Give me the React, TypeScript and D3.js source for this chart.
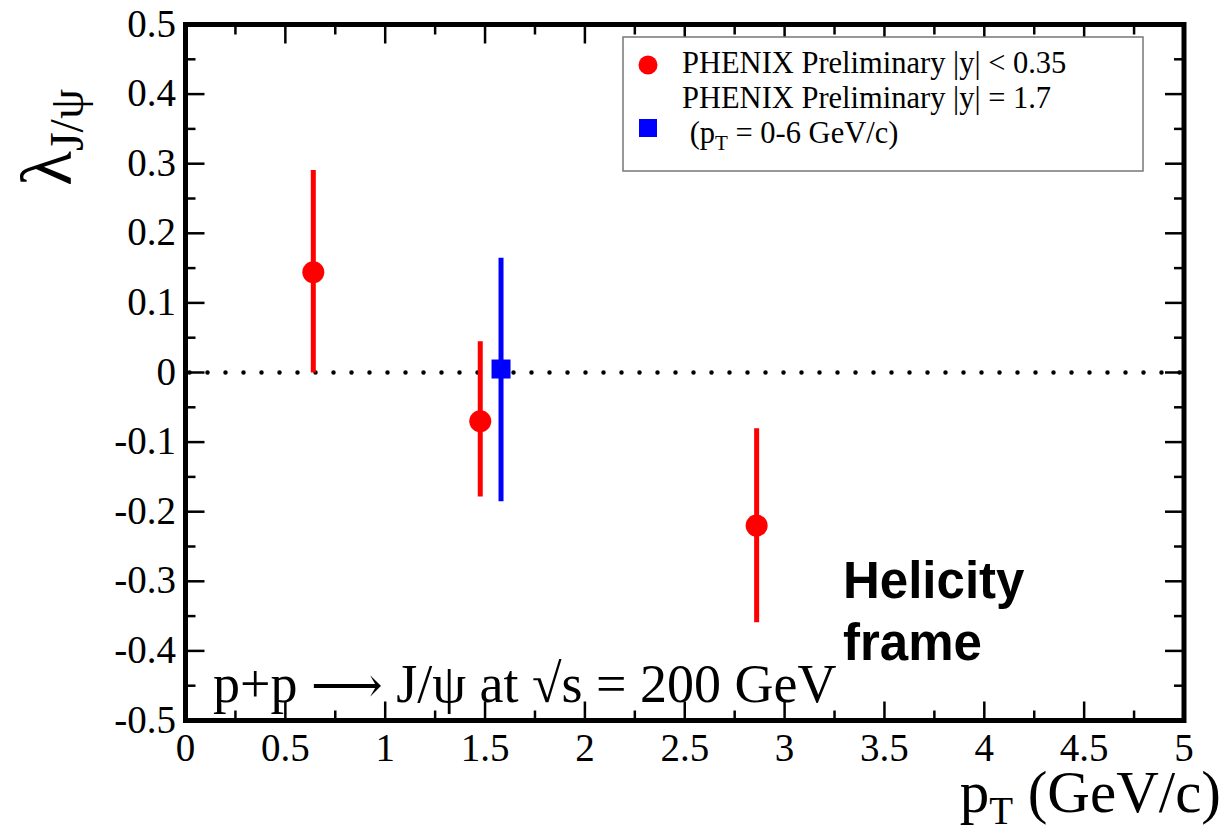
import React from "react";
import * as d3 from "d3";

const redPt = [0.64, 1.476, 2.86];
const redLambda = [0.144, -0.07, -0.22];
const redErrUp = [0.147, 0.115, 0.14];
const redErrDown = [0.144, 0.108, 0.139];

const bluePt = [1.58];
const blueLambda = [0.005];
const blueErrUp = [0.16];
const blueErrDown = [0.19];

const xMajor = [0, 0.5, 1, 1.5, 2, 2.5, 3, 3.5, 4, 4.5, 5];
const xMajorLabels = ["0", "0.5", "1", "1.5", "2", "2.5", "3", "3.5", "4", "4.5", "5"];
const yMajor = [-0.5, -0.4, -0.3, -0.2, -0.1, 0, 0.1, 0.2, 0.3, 0.4, 0.5];
const yMajorLabels = ["-0.5", "-0.4", "-0.3", "-0.2", "-0.1", "0", "0.1", "0.2", "0.3", "0.4", "0.5"];

const legendLabels = [
  "PHENIX Preliminary |y| < 0.35",
  "PHENIX Preliminary |y| = 1.7",
];

const W = 1225;
const H = 836;
const L = 185.5, R = 1184, T = 24.5, B = 720.5;

export default function App() {
  const x = d3.scaleLinear().domain([0, 5]).range([L, R]);
  const y = d3.scaleLinear().domain([-0.5, 0.5]).range([B, T]);
  const serif = "'Liberation Serif', 'Times New Roman', serif";
  const sans = "'Liberation Sans', Arial, sans-serif";

  const xMinor = d3.range(0.25, 5, 0.5);
  const yMinor = d3.range(-0.45, 0.5, 0.1);
  const majLen = 19;
  const minLen = 10;

  return (
    <svg width={W} height={H} style={{ position: "absolute", left: 0, top: 0, background: "#fff" }}>
      <rect x={0} y={0} width={W} height={H} fill="#fff" />
      {/* dotted zero line */}
      <line x1={L + 4} x2={R - 3} y1={y(0)} y2={y(0)} stroke="#000" strokeWidth={4.5}
        strokeDasharray="0 18" strokeLinecap="round" />

      {/* ticks */}
      <g stroke="#000" strokeWidth={2.5}>
        {xMajor.map((v, i) => (
          <g key={"xm" + i}>
            <line x1={x(v)} x2={x(v)} y1={B} y2={B - majLen} />
            <line x1={x(v)} x2={x(v)} y1={T} y2={T + majLen} />
          </g>
        ))}
        {xMinor.map((v, i) => (
          <g key={"xn" + i}>
            <line x1={x(v)} x2={x(v)} y1={B} y2={B - minLen} />
            <line x1={x(v)} x2={x(v)} y1={T} y2={T + minLen} />
          </g>
        ))}
        {yMajor.map((v, i) => (
          <g key={"ym" + i}>
            <line x1={L} x2={L + majLen} y1={y(v)} y2={y(v)} />
            <line x1={R} x2={R - majLen} y1={y(v)} y2={y(v)} />
          </g>
        ))}
        {yMinor.map((v, i) => (
          <g key={"yn" + i}>
            <line x1={L} x2={L + minLen} y1={y(v)} y2={y(v)} />
            <line x1={R} x2={R - minLen} y1={y(v)} y2={y(v)} />
          </g>
        ))}
      </g>

      {/* frame */}
      <rect x={L} y={T} width={R - L} height={B - T} fill="none" stroke="#000" strokeWidth={5} />

      {/* tick labels */}
      <g fontFamily={serif} fontSize={39} fill="#000">
        {xMajor.map((v, i) => (
          <text key={"xl" + i} x={x(v)} y={761} textAnchor="middle">{xMajorLabels[i]}</text>
        ))}
        {yMajor.map((v, i) => (
          <text key={"yl" + i} x={176} y={y(v) + 12} textAnchor="end">{yMajorLabels[i]}</text>
        ))}
      </g>

      {/* axis titles */}
      <text fontFamily={serif} fill="#000" x={1221} y={812} textAnchor="end" fontSize={59}>
        <tspan>p</tspan>
        <tspan fontSize={39} dy={12}>T</tspan>
        <tspan dy={-12}> (GeV/c)</tspan>
      </text>
      <text fontFamily={serif} fill="#000" transform="translate(71,186) rotate(-90)" fontSize={72}>
        <tspan>λ</tspan>
        <tspan fontSize={48} dy={12}>J/ψ</tspan>
      </text>

      {/* error bars */}
      <g strokeWidth={5}>
        {redPt.map((p, i) => (
          <line key={"re" + i} x1={x(p)} x2={x(p)} y1={y(redLambda[i] + redErrUp[i])}
            y2={y(redLambda[i] - redErrDown[i])} stroke="#ff0000" />
        ))}
        {bluePt.map((p, i) => (
          <line key={"be" + i} x1={x(p)} x2={x(p)} y1={y(blueLambda[i] + blueErrUp[i])}
            y2={y(blueLambda[i] - blueErrDown[i])} stroke="#0000ff" />
        ))}
      </g>
      {redPt.map((p, i) => (
        <circle key={"rc" + i} cx={x(p)} cy={y(redLambda[i])} r={11} fill="#ff0000" />
      ))}
      {bluePt.map((p, i) => (
        <rect key={"bs" + i} x={x(p) - 9.5} y={y(blueLambda[i]) - 9.5} width={19} height={19} fill="#0000ff" />
      ))}

      {/* legend */}
      <rect x={623} y={37} width={520} height={134} fill="#fff" stroke="#777" strokeWidth={1.5} />
      <circle cx={648} cy={65} r={9.5} fill="#ff0000" />
      <rect x={639} y={119} width={18} height={18} fill="#0000ff" />
      <g fontFamily={serif} fontSize={30.5} fill="#000">
        <text x={682} y={73}>{legendLabels[0]}</text>
        <text x={682} y={108}>{legendLabels[1]}</text>
        <text x={682} y={143} xmlSpace="preserve">
          <tspan> (p</tspan>
          <tspan fontSize={21} dy={7}>T</tspan>
          <tspan dy={-7}> = 0-6 GeV/c)</tspan>
        </text>
      </g>

      {/* annotations */}
      <text fontFamily={serif} fontSize={54} fill="#000" x={213} y={702}>
        <tspan>p+p </tspan>
        <tspan fontFamily="'DejaVu Serif', serif" fontSize={50}>⟶</tspan>
        <tspan> J/ψ at √s = 200 GeV</tspan>
      </text>
      <g fontFamily={sans} fontWeight="bold" fontSize={51} fill="#000">
        <text x={843} y={598}>Helicity</text>
        <text x={843} y={660}>frame</text>
      </g>
    </svg>
  );
}
